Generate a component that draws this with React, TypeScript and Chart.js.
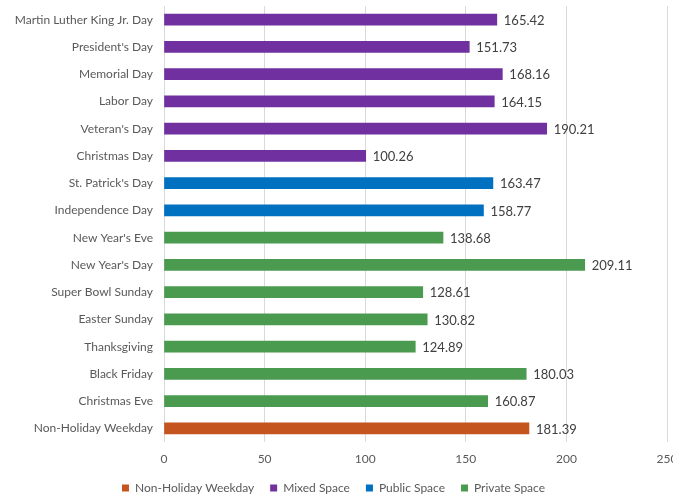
import React, { useEffect, useRef } from "react";
import { Chart, registerables } from "chart.js";

Chart.register(...registerables);

const categories = [
  "Martin Luther King Jr. Day",
  "President's Day",
  "Memorial Day",
  "Labor Day",
  "Veteran's Day",
  "Christmas Day",
  "St. Patrick's Day",
  "Independence Day",
  "New Year's Eve",
  "New Year's Day",
  "Super Bowl Sunday",
  "Easter Sunday",
  "Thanksgiving",
  "Black Friday",
  "Christmas Eve",
  "Non-Holiday Weekday",
];

const values = [
  165.42, 151.73, 168.16, 164.15, 190.21, 100.26, 163.47, 158.77, 138.68,
  209.11, 128.61, 130.82, 124.89, 180.03, 160.87, 181.39,
];

// which group each category belongs to
const groupOf = [
  "Mixed Space", "Mixed Space", "Mixed Space", "Mixed Space", "Mixed Space", "Mixed Space",
  "Public Space", "Public Space",
  "Private Space", "Private Space", "Private Space", "Private Space", "Private Space",
  "Private Space", "Private Space",
  "Non-Holiday Weekday",
];

const groups = ["Non-Holiday Weekday", "Mixed Space", "Public Space", "Private Space"];
const groupColors = ["#C5551F", "#7030A0", "#0070C0", "#4A9B4F"];

const xTicks = [0, 50, 100, 150, 200, 250];

const FONT = "Lato, 'DejaVu Sans', sans-serif";

const valueLabels = {
  id: "valueLabels",
  afterDatasetsDraw(chart: any) {
    const ctx = chart.ctx;
    ctx.save();
    ctx.font = `13px ${FONT}`;
    ctx.fillStyle = "#404040";
    ctx.textAlign = "left";
    ctx.textBaseline = "middle";
    chart.data.datasets.forEach((ds: any, di: number) => {
      const meta = chart.getDatasetMeta(di);
      meta.data.forEach((el: any, i: number) => {
        const v = ds.data[i];
        if (v === null || v === undefined) return;
        ctx.fillText(v.toFixed(2), el.x + 7, el.y + 1);
      });
    });
    ctx.restore();
  },
};

export default function App() {
  const ref = useRef<HTMLCanvasElement>(null);

  useEffect(() => {
    if (!ref.current) return;
    const datasets = groups.map((g, gi) => ({
      label: g,
      data: values.map((v, i) => (groupOf[i] === g ? v : null)),
      backgroundColor: groupColors[gi],
      borderWidth: 0,
      barThickness: 11,
      grouped: false,
    }));
    const chart = new Chart(ref.current, {
      type: "bar",
      data: { labels: categories, datasets },
      options: {
        indexAxis: "y",
        animation: false,
        responsive: false,
        maintainAspectRatio: false,
        layout: { padding: { top: 6, right: 6, left: 0, bottom: -9 } },
        plugins: {
          legend: {
            position: "bottom",
            labels: {
              font: { family: FONT, size: 12 },
              color: "#595959",
              boxWidth: 7,
              boxHeight: 7,
              padding: 16,
            },
          },
          tooltip: { enabled: false },
        },
        scales: {
          x: {
            min: 0,
            max: 250,
            afterBuildTicks: (scale: any) => {
              scale.ticks = xTicks.map((v) => ({ value: v }));
            },
            afterFit: (scale: any) => {
              scale.paddingRight = 0;
              scale.paddingLeft = 0;
              scale.height = 24;
            },
            ticks: {
              font: { family: FONT, size: 12 },
              color: "#595959",
              padding: 10,
            },
            grid: { color: "#D9D9D9", drawTicks: false },
            border: { display: false },
          },
          y: {
            afterFit: (scale: any) => {
              scale.width = 164;
              scale.paddingTop = 0;
              scale.paddingBottom = 0;
            },
            ticks: {
              font: { family: FONT, size: 12 },
              color: "#595959",
              padding: 11,
              autoSkip: false,
            },
            grid: { display: false, drawTicks: false },
            border: { display: false },
          },
        },
      },
      plugins: [valueLabels],
    });
    return () => chart.destroy();
  }, []);

  return (
    <div
      style={{
        position: "fixed",
        left: 0,
        top: 0,
        width: 673,
        height: 495,
        overflow: "hidden",
        background: "#fff",
      }}
    >
      <canvas ref={ref} width={673} height={495} />
    </div>
  );
}
